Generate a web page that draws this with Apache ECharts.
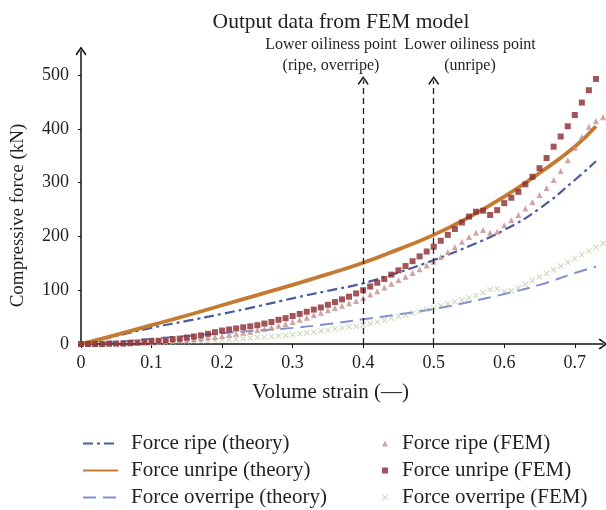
<!DOCTYPE html>
<html>
<head>
<meta charset="utf-8">
<script src="https://cdn.jsdelivr.net/npm/echarts@6/dist/echarts.min.js"></script>
<style>html,body{margin:0;padding:0;background:#fff}#c{width:606px;height:510px}</style>
</head>
<body>
<div id="c"></div>
<script>
// ---- data ----
var xTicks = [0, 0.1, 0.2, 0.3, 0.4, 0.5, 0.6, 0.7];
var yTicks = [0, 100, 200, 300, 400, 500];

// theory curves
var theoryX = [0, 0.05, 0.1, 0.15, 0.2, 0.25, 0.3, 0.35, 0.4, 0.45, 0.5, 0.55, 0.6, 0.65, 0.7, 0.73];
var ripeTheory     = [0, 15, 30, 43, 56, 70, 85, 99, 113, 133, 156, 182, 212, 252, 305, 340];
var unripeTheory   = [0, 17, 35, 53, 72, 91, 110, 130, 151, 176, 203, 236, 274, 318, 367, 405];
var overripeTheory = [0, 4, 10, 15, 20, 25, 30, 37, 46, 55, 65, 78, 93, 110, 132, 144];

// FEM results (step 0.01)
var femX = [0,0.01,0.02,0.03,0.04,0.05,0.06,0.07,0.08,0.09,0.1,0.11,0.12,0.13,0.14,0.15,0.16,0.17,0.18,0.19,0.2,0.21,0.22,0.23,0.24,0.25,0.26,0.27,0.28,0.29,0.3,0.31,0.32,0.33,0.34,0.35,0.36,0.37,0.38,0.39,0.4,0.41,0.42,0.43,0.44,0.45,0.46,0.47,0.48,0.49,0.5,0.51,0.52,0.53,0.54,0.55,0.56,0.57,0.58,0.59,0.6,0.61,0.62,0.63,0.64,0.65,0.66,0.67,0.68,0.69,0.7,0.71,0.72,0.73,0.74];
var ripeFEM = [0,0,0,0,0,1,1,1,2,3,3,4,5,6,7,8,9,10,12,13,15,17,19,21,23,26,28,31,34,37,41,45,49,54,58,63,67,71,76,80,86,92,98,105,112,119,125,132,139,146,153,162,171,180,190,199,207,212,207,209,221,230,240,252,264,277,290,305,322,342,365,385,404,415,422];
var unripeFEM = [0,0,0,0,1,1,1,2,3,4,5,6,7,9,10,12,14,16,19,22,25,27,29,31,33,35,38,41,45,48,52,56,60,64,68,73,78,83,88,94,100,107,114,121,129,137,145,154,163,172,181,192,203,214,226,237,246,248,240,249,262,272,283,297,311,327,346,367,386,405,426,449,472,493];
var overripeFEM = [0,0,0,0,0,0,1,1,1,1,2,2,3,3,4,4,5,5,6,6,7,8,9,10,11,12,13,14,15,16,17,19,21,22,24,26,28,30,32,33,35,38,41,44,48,51,54,57,61,64,67,71,75,79,82,86,90,96,101,103,97,99,104,111,118,125,131,138,145,152,159,166,173,180,187];

// annotation lines (lower oiliness points)
var oilX = [0.4, 0.5];
var oilTop = 490;

function pairs(xs, ys) {
  var out = [];
  for (var i = 0; i < ys.length; i++) out.push([xs[i], ys[i]]);
  return out;
}

var FONT = 'Liberation Serif';
var TXT = '#231f20';
var chevron = 'path://M5,0 L10,7 L9,8.2 L5,2.4 L1,8.2 L0,7 Z';
var cross = 'path://M0,1 L1,0 L5,4 L9,0 L10,1 L6,5 L10,9 L9,10 L5,6 L1,10 L0,9 L4,5 Z';

var chart = echarts.init(document.getElementById('c'), null, {renderer: 'canvas'});
chart.setOption({
  animation: false,
  backgroundColor: '#fff',
  textStyle: {fontFamily: FONT, color: TXT},
  title: {
    text: 'Output data from FEM model',
    left: 336, top: 6, textAlign: 'center',
    textStyle: {fontFamily: FONT, fontSize: 21.5, fontWeight: 'normal', color: TXT}
  },
  grid: {left: 81, right: 3, top: 51, bottom: 166, containLabel: false},
  xAxis: {
    type: 'value', min: 0, max: 0.74, interval: 0.1,
    name: 'Volume strain (—)', nameLocation: 'middle', nameGap: 38,
    nameTextStyle: {fontFamily: FONT, fontSize: 21, color: TXT, padding: [0, 23, 0, 0]},
    axisLine: {show: true, symbol: ['none', chevron], symbolSize: [11, 9], lineStyle: {color: '#111', width: 1.5}},
    axisTick: {show: true, length: 4, inside: false, customValues: xTicks, lineStyle: {color: '#111'}},
    axisLabel: {customValues: xTicks, fontFamily: FONT, fontSize: 18, color: TXT, margin: 10},
    splitLine: {show: false}
  },
  yAxis: {
    type: 'value', min: 0, max: 545, interval: 100,
    name: 'Compressive force (kN)', nameLocation: 'middle', nameGap: 53,
    nameTextStyle: {fontFamily: FONT, fontSize: 19, color: TXT, padding: [0, 36, 0, 0]},
    axisLine: {show: true, symbol: ['none', chevron], symbolSize: [11, 9], lineStyle: {color: '#111', width: 1.5}},
    axisTick: {show: true, length: 3, inside: false, customValues: yTicks, lineStyle: {color: '#111'}},
    axisLabel: {customValues: yTicks, fontFamily: FONT, fontSize: 18, color: TXT, margin: 12},
    splitLine: {show: false}
  },
  legend: [
    {
      orient: 'vertical', left: 82, top: 433, height: 100, padding: 0, itemGap: 6,
      itemWidth: 35, itemHeight: 12,
      itemStyle: {opacity: 0},
      textStyle: {fontFamily: FONT, fontSize: 21, color: TXT, lineHeight: 20, padding: [0, 0, 0, 8]},
      data: ['Force ripe (theory)', 'Force unripe (theory)', 'Force overripe (theory)']
    },
    {
      orient: 'vertical', left: 382, top: 433, height: 100, padding: 0, itemGap: 6,
      itemWidth: 6, itemHeight: 6,
      textStyle: {fontFamily: FONT, fontSize: 21, color: TXT, lineHeight: 20, padding: [0, 0, 0, 9]},
      data: ['Force ripe (FEM)', 'Force unripe (FEM)', 'Force overripe (FEM)']
    }
  ],
  series: [
    {
      name: 'Force overripe (theory)', type: 'line', data: pairs(theoryX, overripeTheory),
      smooth: true, symbol: 'none', z: 2,
      itemStyle: {color: '#7f8fd0'},
      lineStyle: {color: '#7f8fd0', width: 2, type: [13, 7]}
    },
    {
      name: 'Force ripe (theory)', type: 'line', data: pairs(theoryX, ripeTheory),
      smooth: true, symbol: 'none', z: 2,
      itemStyle: {color: '#4a5c9e'},
      lineStyle: {color: '#4a5c9e', width: 2.2, type: [10, 4, 3, 4]}
    },
    {
      name: 'Force unripe (theory)', type: 'line', data: pairs(theoryX, unripeTheory),
      smooth: true, symbol: 'none', z: 2,
      itemStyle: {color: '#c47a30'},
      lineStyle: {color: '#c47a30', width: 3.8},
      markLine: {
        silent: true,
        symbol: ['none', chevron], symbolSize: [11, 9],
        label: {show: false},
        lineStyle: {color: '#222', width: 1.3, type: [6, 4]},
        data: oilX.map(function (v) { return [{coord: [v, 0]}, {coord: [v, oilTop]}]; })
      }
    },
    {
      name: 'Force overripe (FEM)', type: 'scatter', data: pairs(femX, overripeFEM),
      symbol: cross, symbolSize: 6, z: 3,
      itemStyle: {color: '#b5c79b'}
    },
    {
      name: 'Force ripe (FEM)', type: 'scatter', data: pairs(femX, ripeFEM),
      symbol: 'triangle', symbolSize: 6, z: 3,
      itemStyle: {color: '#c48d8f'}
    },
    {
      name: 'Force unripe (FEM)', type: 'scatter', data: pairs(femX, unripeFEM),
      symbol: 'rect', symbolSize: 6, z: 4,
      itemStyle: {color: '#8a2a2e'}
    }
  ],
  graphic: [
    {
      type: 'text', x: 331, y: 34, z: 10,
      style: {text: 'Lower oiliness point\n(ripe, overripe)', align: 'center', verticalAlign: 'top', font: '16px "Liberation Serif"', fill: TXT, lineHeight: 21}
    },
    {
      type: 'text', x: 470, y: 34, z: 10,
      style: {text: 'Lower oiliness point\n(unripe)', align: 'center', verticalAlign: 'top', font: '16px "Liberation Serif"', fill: TXT, lineHeight: 21}
    }
  ]
});
</script>
</body>
</html>
